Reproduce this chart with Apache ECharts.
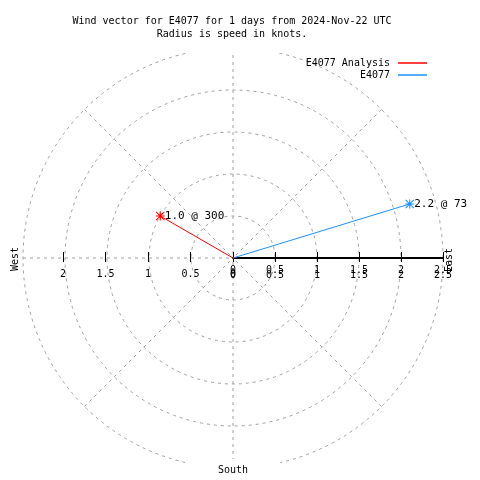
<!DOCTYPE html>
<html>
<head>
<meta charset="utf-8">
<script src="https://cdn.jsdelivr.net/npm/echarts@6/dist/echarts.min.js"></script>
<style>html,body{margin:0;padding:0;background:#fff}#c{width:480px;height:480px}</style>
</head>
<body>
<div id="c"></div>
<script>
const seriesNames = ['E4077 Analysis', 'E4077'];
const seriesColors = ['#ff0000', '#1e90ff'];
const speeds = [1.0, 2.2];
const directions = [300, 73];
const leftTicks = [-2, 0];
const rightTicks = [0, 2.5];
const radiusMax = 2.5;
const tickStep = 0.5;
const titleLines = ['Wind vector for E4077 for 1 days from 2024-Nov-22 UTC', 'Radius is speed in knots.'];

const FONT = 'DejaVu Sans Mono';
const GRAY = '#a0a0a0';
const STAR = 'path://M4.4,0H5.6V10H4.4Z M0,4.4H10V5.6H0Z M0.8,0L10,9.2L9.2,10L0,0.8Z M9.2,0L10,0.8L0.8,10L0,9.2Z';

const chart = echarts.init(document.getElementById('c'), null, {renderer: 'canvas'});

const series = seriesNames.map((name, i) => ({
  name: name,
  type: 'line',
  coordinateSystem: 'polar',
  polarIndex: 0,
  color: seriesColors[i],
  lineStyle: {width: 1, color: seriesColors[i]},
  showSymbol: true,
  z: 10,
  data: [
    {value: [0, directions[i]], symbol: 'none'},
    {value: [speeds[i], directions[i]], symbol: STAR, symbolSize: 9,
     itemStyle: {color: seriesColors[i]},
     label: {show: true, position: 'right', distance: 0, color: '#000', fontFamily: FONT, fontSize: 11,
             formatter: speeds[i].toFixed(1) + ' @ ' + directions[i]}}
  ]
}));

const tickLabelStyle = {color: '#000', fontFamily: FONT, fontSize: 10};

const option = {
  animation: false,
  backgroundColor: '#fff',
  legend: {
    data: seriesNames,
    orient: 'vertical',
    right: 48,
    top: 52,
    align: 'right',
    itemGap: 0,
    itemWidth: 29,
    itemHeight: 1.5,
    icon: 'rect',
    textStyle: {color: '#000', fontFamily: FONT, fontSize: 10, lineHeight: 12, padding: [0, 3, 0, 0]}
  },
  polar: {center: [233, 258], radius: 210},
  radiusAxis: {
    type: 'value', min: 0, max: radiusMax, interval: tickStep,
    axisLine: {show: false}, axisTick: {show: false}, axisLabel: {show: false},
    splitLine: {show: true, lineStyle: {color: GRAY, type: [3, 4], width: 1}}
  },
  angleAxis: {
    type: 'value', min: 0, max: 360, interval: 45, startAngle: 90, clockwise: true,
    axisLine: {show: false}, axisTick: {show: false}, axisLabel: {show: false},
    splitLine: {show: true, lineStyle: {color: GRAY, type: [3, 4], width: 1}}
  },
  grid: [
    {left: 63, width: 170, top: 48, height: 210},
    {left: 233, width: 210, top: 48, height: 210}
  ],
  xAxis: [
    {gridIndex: 0, type: 'value', min: leftTicks[0], max: leftTicks[1], interval: tickStep, position: 'bottom',
     axisLine: {show: false, onZero: false},
     axisTick: {show: true, inside: false, length: 4, lineStyle: {color: '#000', width: 1}},
     axisLabel: Object.assign({margin: 11, formatter: v => String(Math.abs(v))}, tickLabelStyle),
     splitLine: {show: false}},
    {gridIndex: 0, type: 'value', min: leftTicks[0], max: leftTicks[1], interval: tickStep, position: 'bottom',
     axisLine: {show: false, onZero: false},
     axisTick: {show: true, inside: true, length: 6, lineStyle: {color: '#000', width: 1}},
     axisLabel: {show: false},
     splitLine: {show: false}},
    {gridIndex: 1, type: 'value', min: rightTicks[0], max: rightTicks[1], interval: tickStep, position: 'bottom',
     axisLine: {show: true, onZero: false, lineStyle: {color: '#000', width: 2}},
     axisTick: {show: true, inside: false, length: 4, lineStyle: {color: '#000', width: 1}},
     axisLabel: Object.assign({margin: 7}, tickLabelStyle),
     splitLine: {show: false}},
    {gridIndex: 1, type: 'value', min: rightTicks[0], max: rightTicks[1], interval: tickStep, position: 'bottom',
     axisLine: {show: false, onZero: false},
     axisTick: {show: true, inside: true, length: 6, lineStyle: {color: '#000', width: 1}},
     axisLabel: Object.assign({margin: 12}, tickLabelStyle),
     splitLine: {show: false}}
  ],
  yAxis: [
    {gridIndex: 0, type: 'value', min: 0, max: 1, show: false},
    {gridIndex: 1, type: 'value', min: 0, max: 1, show: false}
  ],
  graphic: [
    {type: 'rect', z: 100, shape: {x: 186, y: 36, width: 104, height: 17}, style: {fill: '#fff'}},
    {type: 'rect', z: 100, shape: {x: 185, y: 459, width: 95, height: 21}, style: {fill: '#fff'}},
    {type: 'text', z: 101, x: 232, y: 15,
     style: {text: titleLines.join('\n'), fill: '#000', font: '10px "' + FONT + '"', textAlign: 'center', lineHeight: 13}},
    {type: 'text', z: 101, x: 15, y: 259, rotation: Math.PI / 2,
     style: {text: 'West', fill: '#000', font: '10px "' + FONT + '"', textAlign: 'center', textVerticalAlign: 'middle'}},
    {type: 'text', z: 101, x: 449, y: 260, rotation: Math.PI / 2,
     style: {text: 'East', fill: '#000', font: '10px "' + FONT + '"', textAlign: 'center', textVerticalAlign: 'middle'}},
    {type: 'text', z: 101, x: 233, y: 470,
     style: {text: 'South', fill: '#000', font: '10px "' + FONT + '"', textAlign: 'center', textVerticalAlign: 'middle'}}
  ],
  series: series
};
chart.setOption(option);
</script>
</body>
</html>
